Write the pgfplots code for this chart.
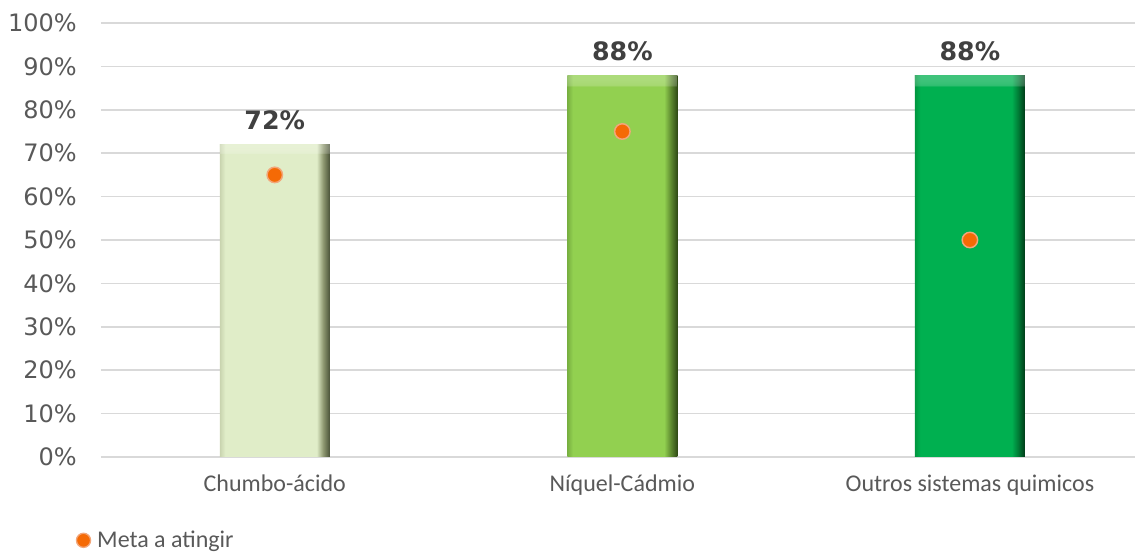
\documentclass[border=0pt]{standalone}
\usepackage{pgfplots}
\pgfplotsset{compat=1.18}
\usepackage{fontspec}
\setmainfont{DejaVu Sans}
\newfontfamily\carlito{Carlito}
\usetikzlibrary{fadings}

\definecolor{gridgray}{HTML}{D9D9D9}
\definecolor{tickgray}{HTML}{595959}
\definecolor{labelgray}{HTML}{404040}
\definecolor{dotorange}{HTML}{F56A05}
\definecolor{dotring}{HTML}{F2A67A}

\definecolor{aL}{HTML}{C8D3AE}\definecolor{aB}{HTML}{E0EDC8}\definecolor{aD}{HTML}{8E9870}\definecolor{aE}{HTML}{4A5238}
\definecolor{bL}{HTML}{78B040}\definecolor{bB}{HTML}{92D050}\definecolor{bD}{HTML}{5E8A30}\definecolor{bE}{HTML}{2F4A16}
\definecolor{cL}{HTML}{00963F}\definecolor{cB}{HTML}{00B050}\definecolor{cD}{HTML}{007A35}\definecolor{cE}{HTML}{003A18}

\pgfdeclarehorizontalshading{barA}{100bp}{color(0bp)=(aL); color(25bp)=(aL); color(27.5bp)=(aB); color(69bp)=(aB); color(72bp)=(aD); color(75bp)=(aE); color(100bp)=(aE)}
\pgfdeclarehorizontalshading{barB}{100bp}{color(0bp)=(bL); color(25bp)=(bL); color(27.5bp)=(bB); color(69bp)=(bB); color(72bp)=(bD); color(75bp)=(bE); color(100bp)=(bE)}
\pgfdeclarehorizontalshading{barC}{100bp}{color(0bp)=(cL); color(25bp)=(cL); color(27.5bp)=(cB); color(69bp)=(cB); color(72bp)=(cD); color(75bp)=(cE); color(100bp)=(cE)}

\pgfdeclareverticalshading{topbandsh}{100bp}{color(0bp)=(black); color(73.4bp)=(black); color(73.6bp)=(white!25!black); color(75bp)=(white!60!black); color(100bp)=(white!60!black)}
\pgfdeclarefading{topband}{\pgfuseshading{topbandsh}}

\begin{document}
\begin{tikzpicture}
\begin{axis}[
  at={(0,0)}, anchor=south west,
  scale only axis, width=775.5pt, height=325.5pt,
  xmin=-0.5, xmax=2.475, ymin=0, ymax=100,
  clip=false,
  ytick={0,10,20,30,40,50,60,70,80,90,100},
  yticklabels={0\%,10\%,20\%,30\%,40\%,50\%,60\%,70\%,80\%,90\%,100\%},
  xtick={0,1,2},
  xticklabels={Chumbo-ácido,Níquel-Cádmio,Outros sistemas quimicos},
  ymajorgrids, grid style={color=gridgray, line width=1.3pt},
  axis line style={draw=none}, tick style={draw=none},
  yticklabel style={font=\fontsize{18}{21}\selectfont, text=tickgray, anchor=east, inner sep=0pt, xshift=-18pt},
  xticklabel style={font=\carlito\fontsize{18}{21}\selectfont, text=tickgray, anchor=base, inner sep=0pt, yshift=-26pt},
  /pgf/number format/assume math mode=true,
  nodes near coords style={font=\bfseries\fontsize{19}{22}\selectfont, text=labelgray},
  legend style={at={(axis description cs:-0.024,-0.192)}, anchor=west, draw=none, fill=none,
    font=\carlito\fontsize{18}{21}\selectfont, text=tickgray, inner sep=0pt,
    /tikz/every odd column/.append style={column sep=3pt}},
  legend image code/.code={\draw[mark=*, mark size=5.3pt, mark options={fill=dotorange, draw=dotring, line width=1pt}] plot coordinates {(0cm,0cm)};},
]
\addplot[ybar, bar width=82.5pt, bar shift=0pt, draw=none, shade, shading=barA,
  postaction={fill=white, path fading=topband},
  nodes near coords={\pgfmathprintnumber{\pgfplotspointmeta}\%},
  every node near coord/.append style={anchor=base, yshift=11pt, inner sep=0pt},
  forget plot] coordinates {(0,72)};
\addplot[ybar, bar width=82.5pt, bar shift=0pt, draw=none, shade, shading=barB,
  postaction={fill=white, path fading=topband},
  nodes near coords={\pgfmathprintnumber{\pgfplotspointmeta}\%},
  every node near coord/.append style={anchor=base, yshift=11pt, inner sep=0pt},
  forget plot] coordinates {(1,88)};
\addplot[ybar, bar width=82.5pt, bar shift=0pt, draw=none, shade, shading=barC,
  postaction={fill=white, path fading=topband},
  nodes near coords={\pgfmathprintnumber{\pgfplotspointmeta}\%},
  every node near coord/.append style={anchor=base, yshift=11pt, inner sep=0pt},
  forget plot] coordinates {(2,88)};
\addplot[only marks, mark=*, mark size=5.8pt, mark options={fill=dotorange, draw=dotring, line width=1.1pt}]
  coordinates {(0,65) (1,75) (2,50)};
\addlegendentry{Meta a atingir}
\end{axis}
\pgfresetboundingbox
\path[use as bounding box] (-75.75pt,-74.25pt) rectangle (775.5pt,342.75pt);
\end{tikzpicture}
\end{document}
